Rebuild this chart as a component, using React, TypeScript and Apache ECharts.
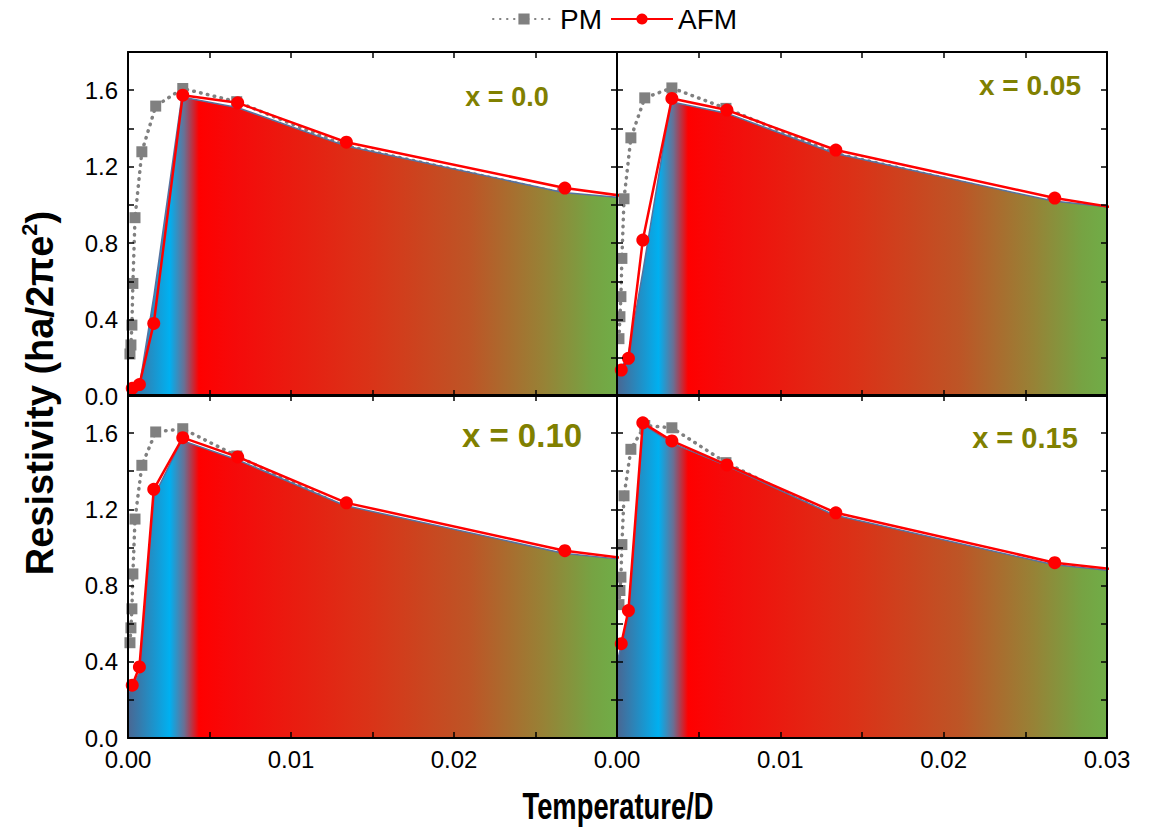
import React, { useEffect, useRef } from 'react';
import * as echarts from 'echarts';

// ---------- data ----------
const PANEL_LABELS = ['x = 0.0', 'x = 0.05', 'x = 0.10', 'x = 0.15'];
const X_TICK_LABELS = ['0.00', '0.01', '0.02', '0.03'];
const Y_TICK_LABELS = ['0.0', '0.4', '0.8', '1.2', '1.6'];

// PM (paramagnetic) temperatures and resistivities
const PM_T = [0.00012, 0.00018, 0.00024, 0.0003, 0.00043, 0.00085, 0.0017, 0.00336, 0.00667, 0.01333, 0.02667];
const PM_X000 = [0.22, 0.267, 0.371, 0.589, 0.933, 1.278, 1.517, 1.609, 1.54, 1.31, 1.06];
const PM_X005 = [0.3, 0.415, 0.52, 0.72, 1.032, 1.351, 1.56, 1.612, 1.505, 1.27, 1.01];
const PM_X010 = [0.5, 0.578, 0.678, 0.861, 1.149, 1.431, 1.606, 1.623, 1.48, 1.21, 0.96];
const PM_X015 = [0.7, 0.774, 0.844, 1.015, 1.271, 1.515, 1.64, 1.628, 1.445, 1.16, 0.9];

// AFM temperatures and resistivities (last point lies beyond the axis, clipped)
const AFM_T = [0.00026, 0.0007, 0.00158, 0.00336, 0.00673, 0.0134, 0.0268, 0.0536];
const AFM_X000 = [0.04, 0.06, 0.38, 1.574, 1.534, 1.328, 1.088, 0.78];
const AFM_X005 = [0.136, 0.197, 0.816, 1.557, 1.496, 1.287, 1.036, 0.67];
const AFM_X010 = [0.277, 0.373, 1.305, 1.576, 1.475, 1.234, 0.983, 0.69];
const AFM_X015 = [0.495, 0.669, 1.654, 1.559, 1.433, 1.182, 0.92, 0.66];

// gradient-filled envelope under the AFM curve
const FILL_T = [0, 0.0007, 0.0016, 0.0033, 0.0067, 0.0133, 0.0267, 0.03];
const FILL_X000 = [0.02, 0.05, 0.53, 1.565, 1.51, 1.31, 1.065, 1.04];
const FILL_X005 = [0.1, 0.22, 0.66, 1.54, 1.48, 1.27, 1.02, 0.99];
const FILL_X010 = [0.234, 0.34, 1.27, 1.562, 1.46, 1.22, 0.97, 0.94];
const FILL_X015 = [0.39, 0.66, 1.646, 1.55, 1.43, 1.17, 0.91, 0.88];

const PM_SETS = [PM_X000, PM_X005, PM_X010, PM_X015];
const AFM_SETS = [AFM_X000, AFM_X005, AFM_X010, AFM_X015];
const FILL_SETS = [FILL_X000, FILL_X005, FILL_X010, FILL_X015];

// ---------- layout ----------
const GRIDS = [
  { left: 128, top: 52, width: 489, height: 344 },
  { left: 617, top: 52, width: 490, height: 344 },
  { left: 128, top: 395, width: 489, height: 343 },
  { left: 617, top: 395, width: 490, height: 343 },
];
const LABEL_POS = [
  { x: 507, y: 97, size: 27 },
  { x: 1030, y: 85, size: 28 },
  { x: 522, y: 435, size: 33 },
  { x: 1025, y: 438, size: 29 },
];

const zip = (xs: number[], ys: number[]) => xs.map((x, i) => [x, ys[i]]);

function buildOption() {
  const grid: any[] = [];
  const xAxis: any[] = [];
  const yAxis: any[] = [];
  const series: any[] = [];
  const graphic: any[] = [];

  const tickStyle = { show: true, inside: true, length: 6, lineStyle: { color: '#000', width: 1.5 } };
  const lineStyle = { show: true, onZero: false, lineStyle: { color: '#000', width: 2 } };

  for (let i = 0; i < 4; i++) {
    const g = GRIDS[i];
    grid.push({ ...g, containLabel: false, show: false });
    const isBottom = i >= 2;
    const isLeft = i % 2 === 0;

    xAxis.push({
      type: 'value', gridIndex: i, min: 0, max: 0.03, interval: 0.005, position: 'bottom', z: 10,
      axisLine: lineStyle, axisTick: tickStyle, splitLine: { show: false },
      axisLabel: {
        show: isBottom, margin: 9, color: '#000', fontSize: 24,
        fontFamily: '"Liberation Sans Narrow", Arial, sans-serif',
        formatter: (v: number) => {
          const k = Math.round(v * 200);
          if (k % 2 !== 0) return '';
          if (isLeft && k === 6) return '';
          return X_TICK_LABELS[k / 2];
        },
      },
    });
    xAxis.push({
      type: 'value', gridIndex: i, min: 0, max: 0.03, interval: 0.005, position: 'top', z: 10,
      axisLine: lineStyle, axisTick: tickStyle, splitLine: { show: false }, axisLabel: { show: false },
    });
    yAxis.push({
      type: 'value', gridIndex: i, min: 0, max: 1.8, interval: 0.2, position: 'left', z: 10,
      axisLine: lineStyle, axisTick: tickStyle, splitLine: { show: false },
      axisLabel: {
        show: isLeft, margin: 10, color: '#000', fontSize: 24, fontFamily: 'Arial, "Liberation Sans", sans-serif',
        formatter: (v: number) => {
          const k = Math.round(v * 5);
          return k % 2 === 0 ? Y_TICK_LABELS[k / 2] ?? '' : '';
        },
      },
    });
    yAxis.push({
      type: 'value', gridIndex: i, min: 0, max: 1.8, interval: 0.2, position: 'right', z: 10,
      axisLine: lineStyle, axisTick: tickStyle, splitLine: { show: false }, axisLabel: { show: false },
    });

    const xi = i * 2;
    const yi = i * 2;

    series.push({
      name: 'PM', type: 'line', xAxisIndex: xi, yAxisIndex: yi, z: 2,
      data: zip(PM_T, PM_SETS[i]),
      symbol: 'rect', symbolSize: 11,
      itemStyle: { color: '#808080' },
      lineStyle: { color: '#808080', width: 3.5, type: [0.5, 6.5], cap: 'round' },
      clip: true,
    });
    series.push({
      name: 'envelope', type: 'line', xAxisIndex: xi, yAxisIndex: yi, z: 3,
      data: zip(FILL_T, FILL_SETS[i]),
      symbol: 'none',
      lineStyle: { color: '#5572a0', width: 1.5 },
      areaStyle: {
        opacity: 1,
        color: new echarts.graphic.LinearGradient(0, 0, 1, 0, [
          { offset: 0, color: '#4a6692' },
          { offset: 0.085, color: '#00b0f0' },
          { offset: 0.115, color: '#6a6f93' },
          { offset: 0.145, color: '#ff0000' },
          { offset: 0.22, color: '#f50a0a' },
          { offset: 0.5, color: '#d93418' },
          { offset: 0.7, color: '#bd5526' },
          { offset: 0.85, color: '#978236' },
          { offset: 0.95, color: '#76a343' },
          { offset: 1, color: '#70ad47' },
        ]),
      },
      silent: true,
      clip: true,
    });
    series.push({
      name: 'AFM', type: 'line', xAxisIndex: xi, yAxisIndex: yi, z: 4,
      data: zip(AFM_T, AFM_SETS[i]),
      symbol: 'circle', symbolSize: 13,
      itemStyle: { color: '#ff0000' },
      lineStyle: { color: '#ff0000', width: 2.5 },
      clip: true,
    });

    const lp = LABEL_POS[i];
    graphic.push({
      type: 'text', x: lp.x, y: lp.y, z: 20,
      style: {
        text: PANEL_LABELS[i], fill: '#808000', fontSize: lp.size, fontWeight: 'bold',
        fontFamily: 'Arial, "Liberation Sans", sans-serif', align: 'center', verticalAlign: 'middle',
      },
    });
  }

  graphic.push({
    type: 'text', x: 618, y: 806, z: 20, scaleX: 0.74,
    style: {
      text: 'Temperature/D', fill: '#000', fontSize: 37, fontWeight: 'bold',
      fontFamily: 'Arial, "Liberation Sans", sans-serif', align: 'center', verticalAlign: 'middle',
    },
  });
  graphic.push({
    type: 'text', x: 40, y: 393, rotation: Math.PI / 2, z: 20,
    style: {
      text: '{a|Resistivity (ha/2πe}{b|2}{a|)}',
      align: 'center', verticalAlign: 'middle', fill: '#000',
      rich: {
        a: { fontSize: 38, fontWeight: 'bold', fontFamily: 'Arial, "Liberation Sans", sans-serif', lineHeight: 44, fill: '#000' },
        b: { fontSize: 22, fontWeight: 'bold', fontFamily: 'Arial, "Liberation Sans", sans-serif', verticalAlign: 'top', lineHeight: 26, fill: '#000' },
      },
    },
  });

  return {
    animation: false,
    backgroundColor: '#fff',
    legend: {
      data: ['PM', 'AFM'], top: 0, left: 487, itemWidth: 62, itemHeight: 14, itemGap: 8,
      textStyle: { fontSize: 28, color: '#000', fontFamily: 'Arial, "Liberation Sans", sans-serif' },
    },
    grid, xAxis, yAxis, series, graphic,
  };
}

export default function App() {
  const ref = useRef<HTMLDivElement>(null);
  useEffect(() => {
    if (!ref.current) return;
    const chart = echarts.init(ref.current, undefined, { renderer: 'svg' });
    chart.setOption(buildOption() as any);
    return () => chart.dispose();
  }, []);
  return (
    <div
      ref={ref}
      style={{ position: 'absolute', left: 0, top: 0, width: 1152, height: 834, background: '#fff' }}
    />
  );
}
